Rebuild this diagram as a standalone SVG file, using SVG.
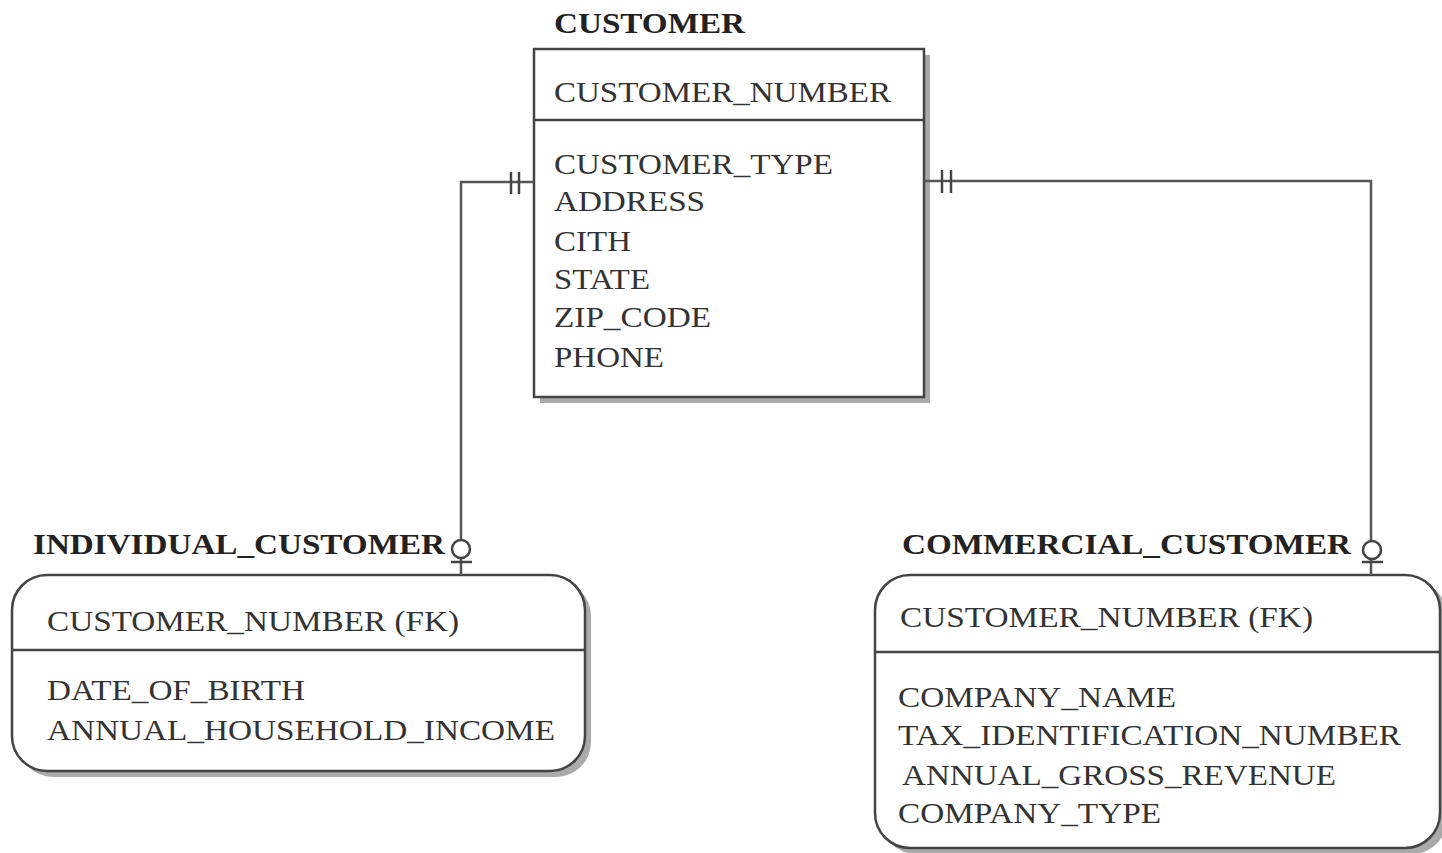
<svg xmlns="http://www.w3.org/2000/svg" width="1442" height="853" viewBox="0 0 1442 853">
<style>
.t{font-family:"Liberation Serif","Times New Roman",serif;font-size:30px;fill:#333}
.b{font-family:"Liberation Serif","Times New Roman",serif;font-size:30px;font-weight:bold;fill:#222}
.box{fill:#fff;stroke:#444;stroke-width:2.5}
.sh{fill:#aaa}
.div{stroke:#444;stroke-width:2.5}
.con{fill:none;stroke:#555;stroke-width:2.5}
.tick{stroke:#444;stroke-width:2.5}
</style>
<rect width="1442" height="853" fill="#fff"/>
<g id="customer">
<text class="b" x="554" y="33" textLength="191" lengthAdjust="spacingAndGlyphs">CUSTOMER</text>
<rect class="sh" x="540" y="55" width="390" height="348"/>
<rect class="box" x="534" y="49" width="390" height="348"/>
<line class="div" x1="534" y1="120" x2="924" y2="120"/>
<text class="t" x="554" y="102" textLength="337" lengthAdjust="spacingAndGlyphs">CUSTOMER_NUMBER</text>
<text class="t" x="554" y="174" textLength="279" lengthAdjust="spacingAndGlyphs">CUSTOMER_TYPE</text>
<text class="t" x="554" y="211" textLength="151" lengthAdjust="spacingAndGlyphs">ADDRESS</text>
<text class="t" x="554" y="251" textLength="77" lengthAdjust="spacingAndGlyphs">CITH</text>
<text class="t" x="554" y="289" textLength="96" lengthAdjust="spacingAndGlyphs">STATE</text>
<text class="t" x="554" y="327" textLength="157" lengthAdjust="spacingAndGlyphs">ZIP_CODE</text>
<text class="t" x="554" y="367" textLength="110" lengthAdjust="spacingAndGlyphs">PHONE</text>
</g>
<g id="individual_customer">
<text class="b" x="33" y="554" textLength="412" lengthAdjust="spacingAndGlyphs">INDIVIDUAL_CUSTOMER</text>
<rect class="sh" x="18" y="581" width="573" height="196" rx="35"/>
<rect class="box" x="12" y="575" width="573" height="196" rx="35"/>
<line class="div" x1="12" y1="650" x2="585" y2="650"/>
<text class="t" x="47" y="631" textLength="412" lengthAdjust="spacingAndGlyphs">CUSTOMER_NUMBER (FK)</text>
<text class="t" x="47" y="700" textLength="258" lengthAdjust="spacingAndGlyphs">DATE_OF_BIRTH</text>
<text class="t" x="47" y="740" textLength="508" lengthAdjust="spacingAndGlyphs">ANNUAL_HOUSEHOLD_INCOME</text>
</g>
<g id="commercial_customer">
<text class="b" x="902" y="554" textLength="449" lengthAdjust="spacingAndGlyphs">COMMERCIAL_CUSTOMER</text>
<rect class="sh" x="881" y="581" width="566" height="273" rx="35"/>
<rect class="box" x="875" y="575" width="565" height="273" rx="35"/>
<line class="div" x1="875" y1="652" x2="1440" y2="652"/>
<text class="t" x="900" y="627" textLength="413" lengthAdjust="spacingAndGlyphs">CUSTOMER_NUMBER (FK)</text>
<text class="t" x="898" y="707" textLength="278" lengthAdjust="spacingAndGlyphs">COMPANY_NAME</text>
<text class="t" x="898" y="745" textLength="503" lengthAdjust="spacingAndGlyphs">TAX_IDENTIFICATION_NUMBER</text>
<text class="t" x="902" y="785" textLength="434" lengthAdjust="spacingAndGlyphs">ANNUAL_GROSS_REVENUE</text>
<text class="t" x="898" y="823" textLength="263" lengthAdjust="spacingAndGlyphs">COMPANY_TYPE</text>
</g>
<g id="connectors">
<path class="con" d="M534,182 H461 V575"/>
<line class="tick" x1="511" y1="172" x2="511" y2="194"/>
<line class="tick" x1="519" y1="172" x2="519" y2="194"/>
<circle cx="461" cy="549" r="9" fill="#fff" stroke="#444" stroke-width="2.5"/>
<line class="tick" x1="451" y1="562" x2="472" y2="562"/>
<path class="con" d="M924,181 H1371 V575"/>
<line class="tick" x1="942" y1="170" x2="942" y2="193"/>
<line class="tick" x1="951" y1="170" x2="951" y2="193"/>
<circle cx="1372" cy="550" r="9" fill="#fff" stroke="#444" stroke-width="2.5"/>
<line class="tick" x1="1362" y1="562" x2="1383" y2="562"/>
</g>
</svg>
